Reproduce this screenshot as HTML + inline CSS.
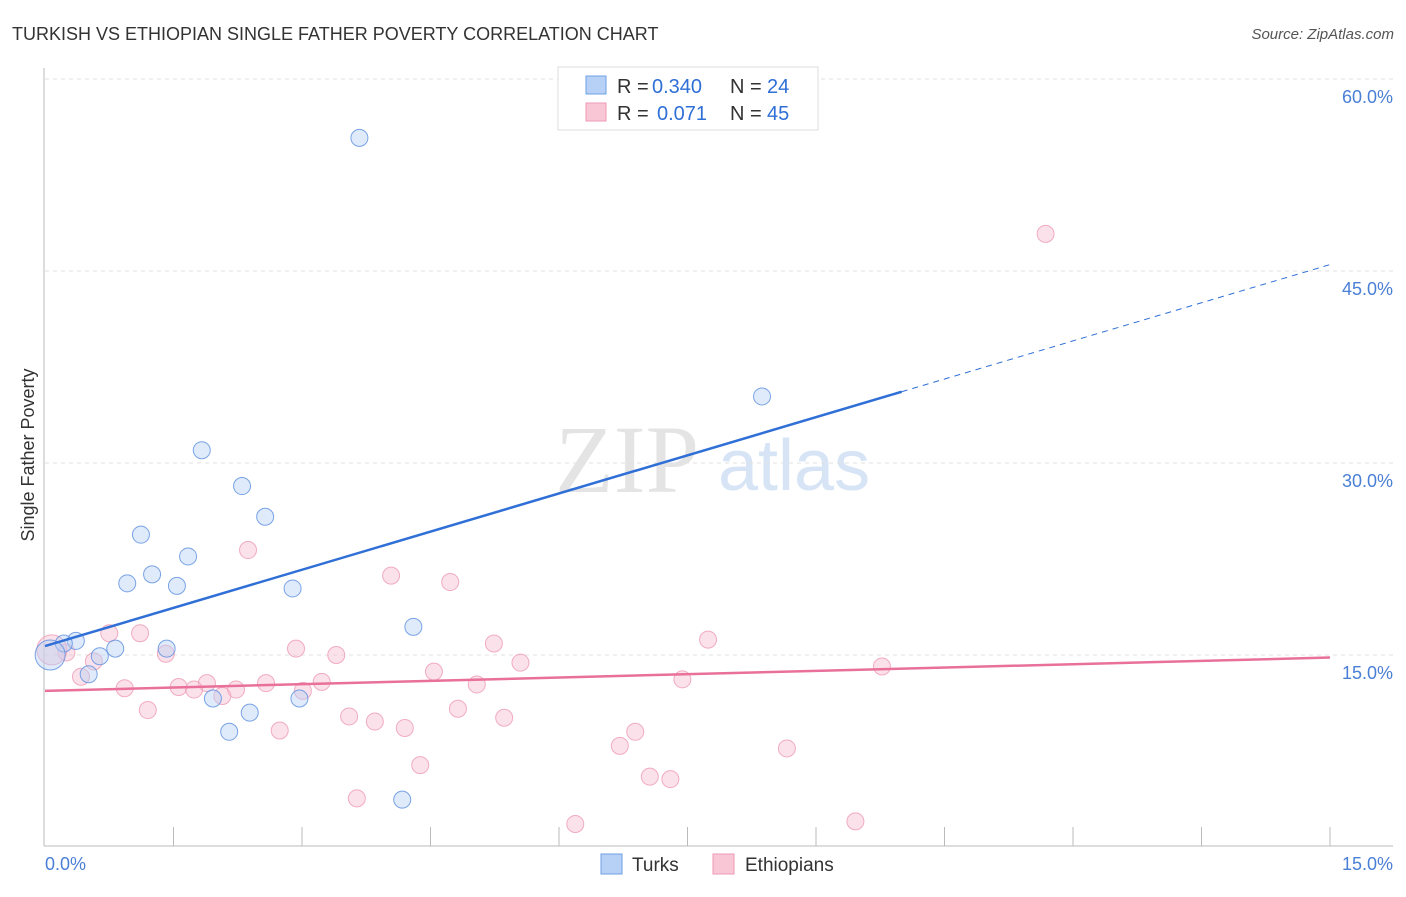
<!DOCTYPE html>
<html><head><meta charset="utf-8"><style>
body{margin:0;background:#fff;font-family:"Liberation Sans",sans-serif}
svg text{font-family:"Liberation Sans",sans-serif}
</style></head><body>
<svg id="c" width="1406" height="892">
<text x="12" y="40" font-size="18" fill="#333">TURKISH VS ETHIOPIAN SINGLE FATHER POVERTY CORRELATION CHART</text>
<text x="1394" y="39" font-size="15" fill="#555" font-style="italic" text-anchor="end">Source: ZipAtlas.com</text>
<text x="555" y="492" font-size="96" fill="#e4e4e4" style="font-family:'Liberation Serif',serif">ZIP</text>
<text x="718" y="490" font-size="72" fill="#d6e4f6">atlas</text>
<g id="grid"></g><g id="axes"></g><g id="pts"></g><g id="trend"></g>
<text transform="translate(34,455) rotate(-90)" font-size="18" fill="#333" text-anchor="middle">Single Father Poverty</text>
<g font-size="20">
<rect x="558" y="67" width="260" height="63" fill="#fff" stroke="#ddd"/>
<rect x="586" y="76" width="20" height="18" fill="#b7d0f5" stroke="#6fa0e6"/>
<rect x="586" y="103" width="20" height="18" fill="#f9c6d6" stroke="#ee9ab4"/>
<text x="617" y="93" fill="#333">R =</text><text x="652" y="93" fill="#2f6fd6">0.340</text>
<text x="730" y="93" fill="#333">N =</text><text x="767" y="93" fill="#2f6fd6">24</text>
<text x="617" y="120" fill="#333">R =</text><text x="657" y="120" fill="#2f6fd6">0.071</text>
<text x="730" y="120" fill="#333">N =</text><text x="767" y="120" fill="#2f6fd6">45</text>
</g>
<g>
<rect x="601" y="854" width="21" height="20" fill="#b7d0f5" stroke="#6fa0e6"/>
<text x="632" y="871" font-size="19" fill="#333">Turks</text>
<rect x="713" y="854" width="21" height="20" fill="#f9c6d6" stroke="#ee9ab4"/>
<text x="745" y="871" font-size="19" fill="#333">Ethiopians</text>
</g>
</svg>
<script>
const turksX=[3.67,8.37,1.83,2.30,2.57,1.12,1.67,1.25,0.96,1.54,2.89,4.30,0.36,0.22,0.82,1.42,0.64,0.51,0.06,1.96,2.97,2.39,2.15,4.17];
const turksY=[55.4,35.2,31.0,28.2,25.8,24.4,22.7,21.3,20.6,20.4,20.2,17.2,16.1,15.9,15.5,15.5,14.9,13.5,15.0,11.6,11.6,10.5,9.0,3.7];
const ethX=[11.68,2.37,4.04,4.73,0.75,1.11,7.74,5.24,2.93,0.25,1.41,3.40,0.08,0.57,5.55,9.77,4.54,0.42,7.44,3.23,1.89,2.58,5.04,0.93,1.56,2.23,1.74,3.01,2.07,1.20,4.82,3.55,5.36,3.85,4.20,2.74,6.89,6.71,8.66,4.38,7.06,7.30,3.64,6.19,9.46];
const ethY=[47.9,23.2,21.2,20.7,16.7,16.7,16.2,15.9,15.5,15.2,15.1,15.0,15.4,14.5,14.4,14.1,13.7,13.3,13.1,12.9,12.8,12.8,12.7,12.4,12.5,12.3,12.3,12.2,11.8,10.7,10.8,10.2,10.1,9.8,9.3,9.1,9.0,7.9,7.7,6.4,5.5,5.3,3.8,1.8,2.0];
const yTicks=[15,30,45,60];
const turksTrend=[15.7,45.5];
const ethTrend=[12.2,14.8];
const NS="http://www.w3.org/2000/svg";
const sx=v=>45+v/15*1285, sy=v=>847-v/15*192;
function mk(p,t,a){const e=document.createElementNS(NS,t);for(const k in a)e.setAttribute(k,a[k]);document.getElementById(p).appendChild(e);return e;}
yTicks.forEach(t=>{
 const g=mk('grid','line',{x1:45,x2:1393,y1:sy(t),y2:sy(t),stroke:'#e2e2e2','stroke-dasharray':'4,4'});
 
 
 const l=mk('grid','text',{x:1393,y:sy(t)+24,'font-size':18,fill:'#4a7fd6','text-anchor':'end'});
 l.textContent=t.toFixed(1)+'%';
 
 
});
mk('axes','line',{x1:44,x2:44,y1:68,y2:846,stroke:'#bbb'});
mk('axes','line',{x1:44,x2:1393,y1:846,y2:846,stroke:'#bbb'});
for(let i=1;i<=10;i++){const x=sx(i*1.5);mk('axes','line',{x1:x,x2:x,y1:827,y2:846,stroke:'#bbb'});}
let t0=mk('axes','text',{x:45,y:870,'font-size':18,fill:'#4a7fd6'});t0.textContent='0.0%';


let t1=mk('axes','text',{x:1393,y:870,'font-size':18,fill:'#4a7fd6','text-anchor':'end'});t1.textContent='15.0%';


function dots(X,Y,fill,stroke,name){X.forEach((x,i)=>{
 const r=(x<0.1)?15:8.5;
 const c=mk('pts','circle',{cx:sx(x),cy:sy(Y[i]),r:r,fill:fill,'fill-opacity':0.45,stroke:stroke,'stroke-width':1,'stroke-opacity':0.8});
 
 
});}
dots(ethX,ethY,'#f7bfd0','#ee9ab4','ethiopian-point');
dots(turksX,turksY,'#b7d0f5','#5b8fe0','turks-point');
const ty=x=>turksTrend[0]+(turksTrend[1]-turksTrend[0])*x/15;
let a=mk('trend','line',{x1:sx(0),y1:sy(ty(0)),x2:sx(10),y2:sy(ty(10)),stroke:'#2f6fd6','stroke-width':2.5});


let b=mk('trend','line',{x1:sx(10),y1:sy(ty(10)),x2:sx(15),y2:sy(ty(15)),stroke:'#2f6fd6','stroke-width':1,'stroke-dasharray':'6,5'});


let e=mk('trend','line',{x1:sx(0),y1:sy(ethTrend[0]),x2:sx(15),y2:sy(ethTrend[1]),stroke:'#e8709a','stroke-width':2.5});


</script>
</body></html>
